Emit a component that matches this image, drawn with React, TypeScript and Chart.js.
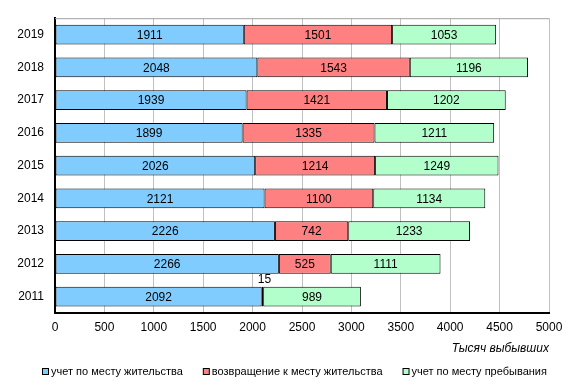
import React, { useEffect, useRef } from "react";
import { Chart, registerables } from "chart.js";

Chart.register(...registerables);

const years = ["2019", "2018", "2017", "2016", "2015", "2014", "2013", "2012", "2011"];
const residence = [1911, 2048, 1939, 1899, 2026, 2121, 2226, 2266, 2092];
const returned = [1501, 1543, 1421, 1335, 1214, 1100, 742, 525, 15];
const stay = [1053, 1196, 1202, 1211, 1249, 1134, 1233, 1111, 989];
const seriesNames = ["учет по месту жительства", "возвращение к месту жительства", "учет по месту пребывания"];
const seriesColors = ["#80CCFF", "#FF8080", "#B3FFCC"];
const xTicks = [0, 500, 1000, 1500, 2000, 2500, 3000, 3500, 4000, 4500, 5000];
const axisTitle = "Тысяч выбывших";

const FONT = "'Liberation Sans', Arial, sans-serif";

const labelPlugin = {
  id: "barLabels",
  afterDatasetsDraw(chart: any) {
    const ctx = chart.ctx;
    ctx.save();
    ctx.font = `12px ${FONT}`;
    ctx.fillStyle = "#000";
    ctx.textAlign = "center";
    ctx.textBaseline = "middle";
    chart.data.datasets.forEach((ds: any, di: number) => {
      const meta = chart.getDatasetMeta(di);
      meta.data.forEach((bar: any, i: number) => {
        const v = ds.data[i];
        const props = bar.getProps(["x", "y", "base", "height"], true);
        const cx = (props.x + props.base) / 2;
        if (Math.abs(props.x - props.base) < 20) {
          ctx.fillText(String(v), cx + 2, props.y - props.height / 2 - 7);
        } else {
          ctx.fillText(String(v), cx, props.y + 1);
        }
      });
    });
    ctx.restore();
  },
};

const framePlugin = {
  id: "frame",
  beforeDatasetsDraw(chart: any) {
    const { ctx, chartArea } = chart;
    ctx.save();
    ctx.strokeStyle = "#A0A0A0";
    ctx.lineWidth = 1;
    ctx.beginPath();
    ctx.moveTo(chartArea.left, chartArea.top + 0.5);
    ctx.lineTo(chartArea.right, chartArea.top + 0.5);
    ctx.stroke();
    ctx.restore();
  },
};

const legendPlugin = {
  id: "customLegend",
  afterDraw(chart: any) {
    const ctx = chart.ctx;
    ctx.save();
    ctx.font = `11px ${FONT}`;
    ctx.textBaseline = "middle";
    ctx.textAlign = "left";
    const box = 7;
    const gapBox = 2;
    const gapItem = 20;
    const widths = seriesNames.map((n) => ctx.measureText(n).width);
    const total = widths.reduce((a, b) => a + b, 0) + seriesNames.length * (box + gapBox) + gapItem * (seriesNames.length - 1);
    let x = Math.round(294 - total / 2);
    const y = 372;
    seriesNames.forEach((name, i) => {
      ctx.fillStyle = seriesColors[i];
      ctx.fillRect(x + 0.5, y - 3.5, box - 1, box - 1);
      ctx.strokeStyle = "#000";
      ctx.lineWidth = 1;
      ctx.strokeRect(x + 0.5, y - 3.5, box - 1, box - 1);
      x += box + gapBox;
      ctx.fillStyle = "#000";
      ctx.fillText(name, x, y);
      x += widths[i] + gapItem;
    });
    ctx.restore();
  },
};

export default function App() {
  const ref = useRef<HTMLCanvasElement>(null);
  useEffect(() => {
    if (!ref.current) return;
    const chart = new Chart(ref.current, {
      type: "bar",
      data: {
        labels: years,
        datasets: [
          { label: seriesNames[0], data: residence, backgroundColor: seriesColors[0] },
          { label: seriesNames[1], data: returned, backgroundColor: seriesColors[1] },
          { label: seriesNames[2], data: stay, backgroundColor: seriesColors[2] },
        ].map((d) => ({
          ...d,
          borderColor: "#000",
          borderWidth: 1,
          borderSkipped: false,
          barPercentage: 0.6,
          categoryPercentage: 1,
        })),
      },
      options: {
        indexAxis: "y",
        animation: false,
        responsive: false,
        devicePixelRatio: 1,
        layout: { padding: { left: 0, right: 30, top: 15, bottom: 33 } },
        font: { family: FONT },
        scales: {
          x: {
            stacked: true,
            min: 0,
            max: 5000,
            afterBuildTicks: (scale: any) => {
              scale.ticks = xTicks.map((v) => ({ value: v }));
            },
            afterFit: (scale: any) => {
              scale.height = 43;
            },
            grid: { color: "#C0C0C0", drawTicks: false, lineWidth: 1 },
            border: { color: "#000", width: 2 },
            ticks: {
              color: "#000",
              font: { size: 12, family: FONT },
              padding: 7,
              callback: (v: any) => String(v),
            },
            title: {
              display: true,
              text: axisTitle,
              align: "end",
              color: "#000",
              font: { size: 12, style: "italic", family: FONT },
              padding: { top: 0, bottom: 0 },
            },
          },
          y: {
            stacked: true,
            grid: { display: false, drawTicks: false },
            border: { color: "#000", width: 2 },
            ticks: { color: "#000", font: { size: 12, family: FONT }, padding: 11 },
            afterFit: (scale: any) => {
              scale.width = 55;
            },
          },
        },
        plugins: {
          legend: { display: false },
          tooltip: { enabled: false },
        },
      },
      plugins: [labelPlugin, framePlugin, legendPlugin],
    } as any);
    return () => chart.destroy();
  }, []);
  return (
    <div style={{ position: "absolute", left: 0, top: 0, width: 579, height: 389, background: "#fff" }}>
      <canvas ref={ref} width={579} height={389} />
    </div>
  );
}
